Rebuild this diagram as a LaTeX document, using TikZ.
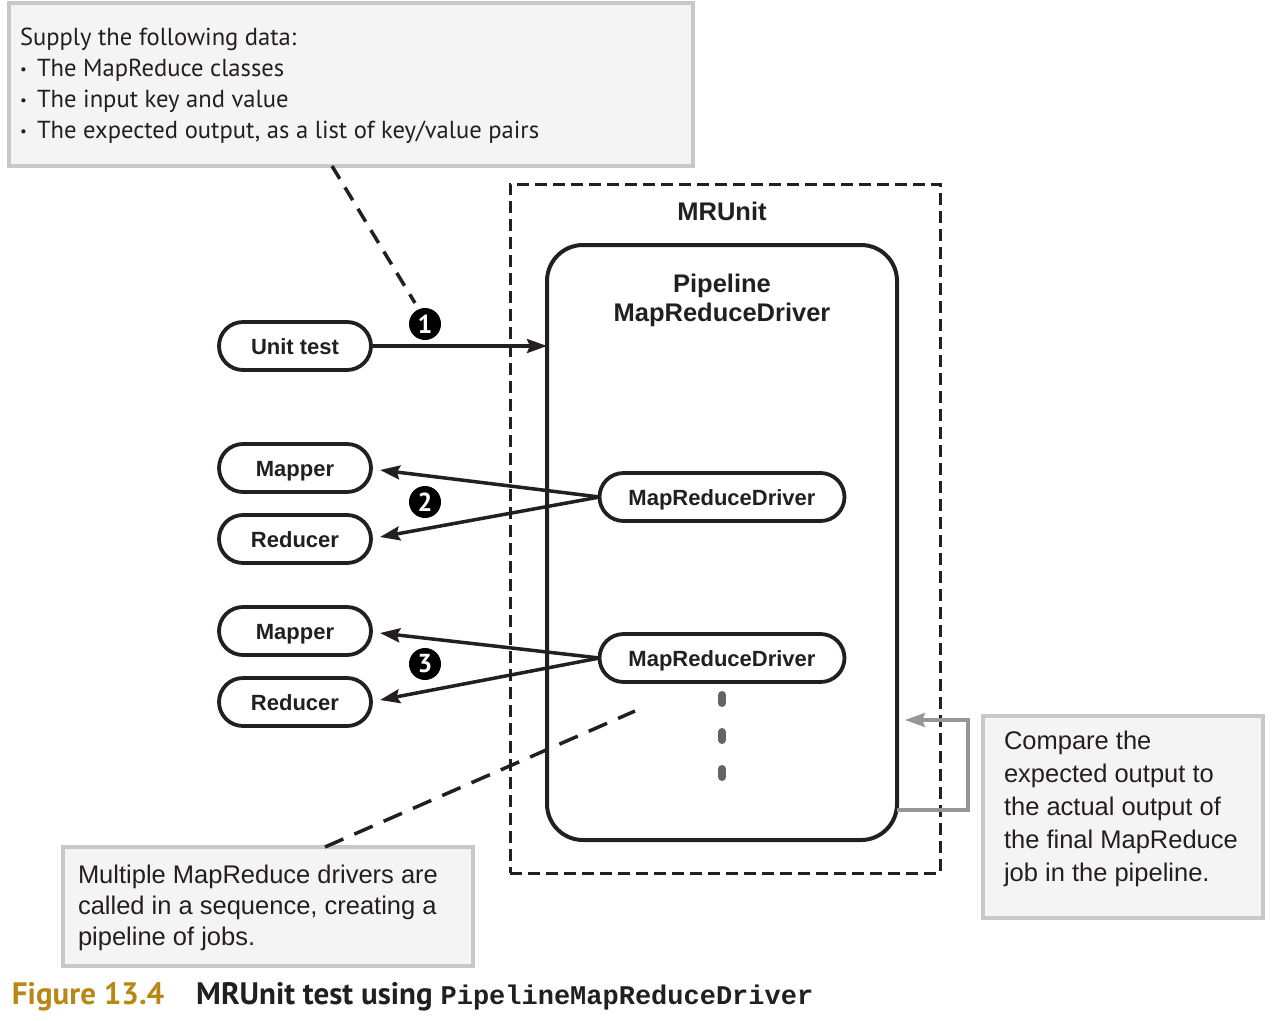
\documentclass[tikz,border=0pt]{standalone}
\usepackage{fontspec}
\setmainfont{Liberation Sans}
\newfontfamily\myr{PT Sans}
\newfontfamily\ptb{PT Sans}
\setmonofont{Liberation Mono}
\usetikzlibrary{arrows.meta,calc,shapes.misc}
\definecolor{cfill}{RGB}{244,244,244}
\definecolor{cedge}{RGB}{200,200,200}
\definecolor{ink}{RGB}{35,31,32}
\definecolor{garrow}{RGB}{150,150,150}
\definecolor{dotc}{RGB}{100,100,100}
\definecolor{gold}{RGB}{185,135,20}
\newcommand{\smallbul}{\makebox[17pt][l]{\raisebox{2pt}{\fontsize{15}{15}\selectfont\textbullet}}}
\begin{document}
\begin{tikzpicture}[x=1pt,y=-1pt,
 every node/.style={inner sep=0pt, outer sep=0pt, text=ink},
 pill/.style={rounded rectangle, draw=ink, line width=3.8pt, minimum width=152pt, minimum height=48pt, fill=white, text height=16pt, text depth=0pt, font=\fontsize{22}{26}\selectfont\bfseries},
 drvpill/.style={pill, minimum width=245pt},
 callout/.style={draw=cedge, fill=cfill, line width=3.5pt},
 numc/.style={circle, fill=black, minimum size=32pt, text=white, font=\ptb\fontsize{26}{26}\selectfont\bfseries},
 arrowhd/.style={-{Stealth[length=20pt,width=14pt,inset=3pt]}},
 conn/.style={draw=ink, line width=3.5pt, arrowhd},
 calldash/.style={draw=ink, line width=3.5pt, dash pattern=on 15pt off 10pt},
 dotseg/.style={draw=dotc, line width=8pt, line cap=round},
 ]
\useasboundingbox (0,0) rectangle (1276,1020);

% callouts
\node[callout, minimum width=684pt, minimum height=163pt] (topbox) at (351,84.5) {};
\node[anchor=north west, align=left, font=\myr\fontsize{24.6}{31}\selectfont] (toptext) at (20,28)
 {Supply the following data:\\
  \smallbul The MapReduce classes\\
  \smallbul The input key and value\\
  \smallbul The expected output, as a list of key/value pairs};

\node[callout, minimum width=410pt, minimum height=119pt] (botbox) at (268,906.5) {};
\node[anchor=north west, align=left, font=\fontsize{25.5}{31}\selectfont] (bottext) at (78,865)
 {Multiple MapReduce drivers are\\called in a sequence, creating a\\pipeline of jobs.};

\node[callout, minimum width=280pt, minimum height=202pt] (rbox) at (1123,817) {};
\node[anchor=north west, align=left, font=\fontsize{25.5}{33}\selectfont] (rtext) at (1004,731)
 {Compare the\\expected output to\\the actual output of\\the final MapReduce\\job in the pipeline.};

% containers
\node[draw=ink, line width=3pt, dash pattern=on 12pt off 6pt, minimum width=430pt, minimum height=689pt] (mrunit) at (725,528.5) {};
\node[font=\fontsize{25.5}{30}\selectfont\bfseries] (mrlbl) at (722,211) {MRUnit};
\node[draw=ink, line width=4pt, rounded corners=36pt, minimum width=350pt, minimum height=595pt] (pipe) at (722,542.5) {};
\node[align=center, font=\fontsize{25.5}{29}\selectfont\bfseries] (pipelbl) at (722,300.5) {Pipeline\\MapReduceDriver};

% nodes
\node[pill] (ut) at (295,346) {Unit test};
\node[pill] (m1) at (295,468) {Mapper};
\node[pill] (r1) at (295,539) {Reducer};
\node[pill] (m2) at (295,631) {Mapper};
\node[pill] (r2) at (295,702) {Reducer};
\node[drvpill] (d1) at (722,497) {MapReduceDriver};
\node[drvpill] (d2) at (722,658) {MapReduceDriver};

% connectors
\draw[conn] (ut.east) -- (pipe.west |- ut.east);
\draw[conn] (d1.west) -- ([xshift=9pt,yshift=-2pt]m1.east);
\draw[conn] (d1.west) -- ([xshift=9pt,yshift=2pt]r1.east);
\draw[conn] (d2.west) -- ([xshift=9pt,yshift=-2pt]m2.east);
\draw[conn] (d2.west) -- ([xshift=9pt,yshift=2pt]r2.east);

% numbers
\node[numc] (n1) at (425,324) {1};
\node[numc] (n2) at (425,502) {2};
\node[numc] (n3) at (425,664) {3};

% callout leaders
\coordinate (c1) at (415,303);
\coordinate (c2) at (635,711);
\draw[calldash] ([xshift=-19pt]topbox.south) -- (c1);
\draw[calldash, dash pattern=on 20pt off 12pt] ([xshift=57pt]botbox.north) -- (c2);

% dots
\draw[dotseg] (722,695) -- (722,703);
\draw[dotseg] (722,732) -- (722,740);
\draw[dotseg] (722,769) -- (722,777);

% gray feedback arrow
\coordinate (g1) at (968,810);
\coordinate (g2) at (968,720);
\coordinate (g3) at (905,720);
\draw[garrow, line width=3.5pt, -{Stealth[length=20pt,width=14pt,inset=3pt]}] (pipe.east |- g1) -- (g1) -- (g2) -- (g3);

% caption
\node[anchor=base west, font=\ptb\fontsize{31}{34}\selectfont\bfseries] (cap) at (12,1004)
 {{\color{gold}Figure 13.4}\hspace{32pt}MRUnit test using {\ttfamily\fontsize{27}{32}\selectfont PipelineMapReduceDriver}};
\end{tikzpicture}
\end{document}
